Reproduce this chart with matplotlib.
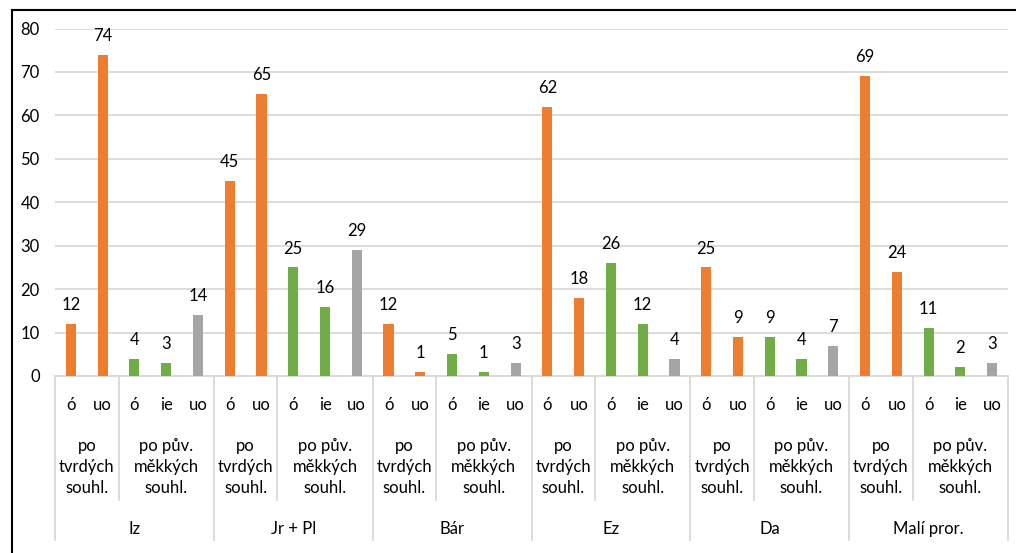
import matplotlib
matplotlib.use("Agg")
import matplotlib.pyplot as plt
from matplotlib.lines import Line2D
import numpy as np

plt.rcParams['font.family'] = ['Lato', 'DejaVu Sans']

# data
groups = ["Iz", "Jr + Pl", "Bár", "Ez", "Da", "Malí pror."]
subgroups = ["po\ntvrdých\nsouhl.", "po pův.\nměkkých\nsouhl."]
sub_letters = [["ó", "uo"], ["ó", "ie", "uo"]]
values = [
    [12, 74, 4, 3, 14],   # Iz
    [45, 65, 25, 16, 29],  # Jr + Pl
    [12, 1, 5, 1, 3],     # Bár
    [62, 18, 26, 12, 4],  # Ez
    [25, 9, 9, 4, 7],     # Da
    [69, 24, 11, 2, 3],   # Malí pror.
]

ORANGE = "#ED7D31"
GREEN = "#70AD47"
GRAY = "#A5A5A5"
bar_colors = [ORANGE, ORANGE, GREEN, GREEN, GRAY]
GRID = "#D9D9D9"
FS = 12

W, H = 1016, 553
fig = plt.figure(figsize=(W / 100, H / 100), dpi=100)
x0, x1, y0, y1 = 55, 1008, 376, 28.5
ax = fig.add_axes([x0 / W, 1 - y0 / H, (x1 - x0) / W, (y0 - y1) / H])
ax_h = y0 - y1

flat = [v for g in values for v in g]
cols = bar_colors * len(groups)
xs = np.arange(len(flat))
ax.bar(xs, flat, width=0.32, color=cols, zorder=3)
for x, v in zip(xs, flat):
    ax.annotate(str(v), (x, v), xytext=(0, 10), textcoords="offset points",
                ha="center", va="baseline", fontsize=FS, color="#000000")

ax.set_xlim(-0.5, len(flat) - 0.5)
ax.set_ylim(0, 80)
ax.set_yticks(range(0, 81, 10))
ax.tick_params(axis="y", length=0, pad=11, labelsize=FS)
ax.set_xticks([])
ax.grid(axis="y", color=GRID, linewidth=1.3, zorder=0)
for s in ["top", "right", "left"]:
    ax.spines[s].set_visible(False)
ax.spines["bottom"].set_color(GRID)
ax.spines["bottom"].set_linewidth(1.3)

tr = ax.get_xaxis_transform()


def px_pt(px):
    return -px * 0.72


# category labels
pos = 0
for gi, g in enumerate(groups):
    start = pos
    for si, letters in enumerate(sub_letters):
        sstart = pos
        for L in letters:
            ax.annotate(L, (pos, 0), xycoords=tr, xytext=(0, px_pt(29)),
                        textcoords="offset points", ha="center", va="center",
                        fontsize=FS, annotation_clip=False)
            pos += 1
        ax.annotate(subgroups[si], ((sstart + pos - 1) / 2, 0), xycoords=tr,
                    xytext=(0, px_pt(91)), textcoords="offset points",
                    ha="center", va="center", fontsize=FS, linespacing=1.4,
                    annotation_clip=False)
        if si < len(sub_letters) - 1:
            ax.plot([pos - 0.5, pos - 0.5], [0, -124 / ax_h], transform=tr,
                    color=GRID, linewidth=1.3, clip_on=False)
    ax.annotate(g, ((start + pos - 1) / 2, 0), xycoords=tr,
                xytext=(0, px_pt(153)), textcoords="offset points",
                ha="center", va="center", fontsize=FS, annotation_clip=False)
    ax.plot([start - 0.5, start - 0.5], [0, -164 / ax_h], transform=tr,
            color=GRID, linewidth=1.3, clip_on=False)
ax.plot([pos - 0.5, pos - 0.5], [0, -164 / ax_h], transform=tr,
        color=GRID, linewidth=1.3, clip_on=False)

# outer frame (left and top)
fig.add_artist(Line2D([11.5 / W, 11.5 / W], [0, 1 - 9.5 / H], color="black",
                      linewidth=1.5, transform=fig.transFigure))
fig.add_artist(Line2D([11.5 / W, 1], [1 - 9.5 / H, 1 - 9.5 / H], color="black",
                      linewidth=1.5, transform=fig.transFigure))

fig.savefig("out.png", dpi=100)
